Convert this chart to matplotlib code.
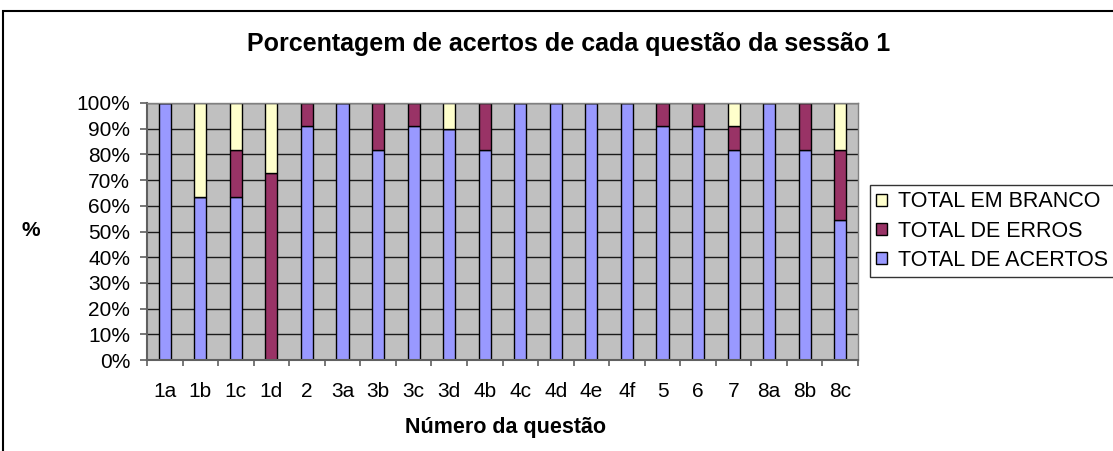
import numpy as np
import matplotlib
matplotlib.use('Agg')
import matplotlib.pyplot as plt
from matplotlib.patches import Rectangle

plt.rcParams['font.family'] = ['Liberation Sans', 'DejaVu Sans']

# Dados (percentuais por questão)
questoes = ['1a', '1b', '1c', '1d', '2', '3a', '3b', '3c', '3d', '4b',
            '4c', '4d', '4e', '4f', '5', '6', '7', '8a', '8b', '8c']
acertos = [100, 63.6, 63.6, 0, 90.9, 100, 81.8, 90.9, 90, 81.8,
           100, 100, 100, 100, 90.9, 90.9, 81.8, 100, 81.8, 54.5]
erros = [0, 0, 18.2, 72.7, 9.1, 0, 18.2, 9.1, 0, 18.2,
         0, 0, 0, 0, 9.1, 9.1, 9.1, 0, 18.2, 27.3]
branco = [0, 36.4, 18.2, 27.3, 0, 0, 0, 0, 10, 0,
          0, 0, 0, 0, 0, 0, 9.1, 0, 0, 18.2]
yticks = list(range(0, 101, 10))

W, H = 1113, 451
fig = plt.figure(figsize=(W / 100, H / 100), dpi=100)
ax = fig.add_axes([147 / W, 1 - 360 / H, (858 - 147) / W, (360 - 103) / H])

x = np.arange(len(questoes))
a = np.array(acertos)
e = np.array(erros)
b = np.array(branco)
largura = 0.34
kw = dict(width=largura, edgecolor='black', linewidth=1)
ax.bar(x, a, color='#9999FF', label='TOTAL DE ACERTOS', **kw)
ax.bar(x, e, bottom=a, color='#993366', label='TOTAL DE ERROS', **kw)
ax.bar(x, b, bottom=a + e, color='#FFFFCC', label='TOTAL EM BRANCO', **kw)

ax.set_facecolor('#C0C0C0')
ax.set_xlim(-0.5, len(questoes) - 0.5)
ax.set_ylim(0, 100)
ax.set_yticks(yticks)
ax.set_yticklabels([f'{v}%' for v in yticks], fontsize=15)
ax.yaxis.grid(True, color='#1a1a1a', linewidth=1)
ax.set_axisbelow(True)

ax.set_xticks(np.arange(len(questoes) + 1) - 0.5)
ax.set_xticklabels([])
ax.set_xticks(x, minor=True)
ax.set_xticklabels(questoes, minor=True, fontsize=15)
ax.tick_params(axis='x', which='minor', length=0, pad=16)
ax.tick_params(axis='x', which='major', length=4.5, color='#606060', width=1.2)
ax.tick_params(axis='y', length=5, color='#606060', width=1.2, pad=7)

for lado in ['left', 'bottom']:
    ax.spines[lado].set_color('#606060')
    ax.spines[lado].set_linewidth(1.5)
for lado in ['right', 'top']:
    ax.spines[lado].set_color('#808080')
    ax.spines[lado].set_linewidth(1)

fig.text(569 / W, 1 - 44 / H, 'Porcentagem de acertos de cada questão da sessão 1',
         ha='center', va='center', fontsize=18, fontweight='bold')
fig.text(505 / W, 1 - 428 / H, 'Número da questão',
         ha='center', va='center', fontsize=15.5, fontweight='bold')
fig.text(31 / W, 1 - 230 / H, '%', ha='center', va='center',
         fontsize=15, fontweight='bold')

handles, labels = ax.get_legend_handles_labels()
leg = fig.legend(handles[::-1], labels[::-1], loc='upper left',
                 bbox_to_anchor=(870 / W, 1 - 185 / H), fontsize=15.5,
                 frameon=True, fancybox=False, edgecolor='black',
                 handlelength=0.5, handleheight=0.5, handletextpad=0.5,
                 borderpad=0.3, labelspacing=0.38, borderaxespad=0)
leg.get_frame().set_linewidth(1)

# moldura do gráfico
fig.patches.append(Rectangle((3 / W, -0.1), 1.2, 1 - 11 / H + 0.1,
                             transform=fig.transFigure, fill=False,
                             edgecolor='black', linewidth=1.5))

fig.savefig('out.png', dpi=100)
